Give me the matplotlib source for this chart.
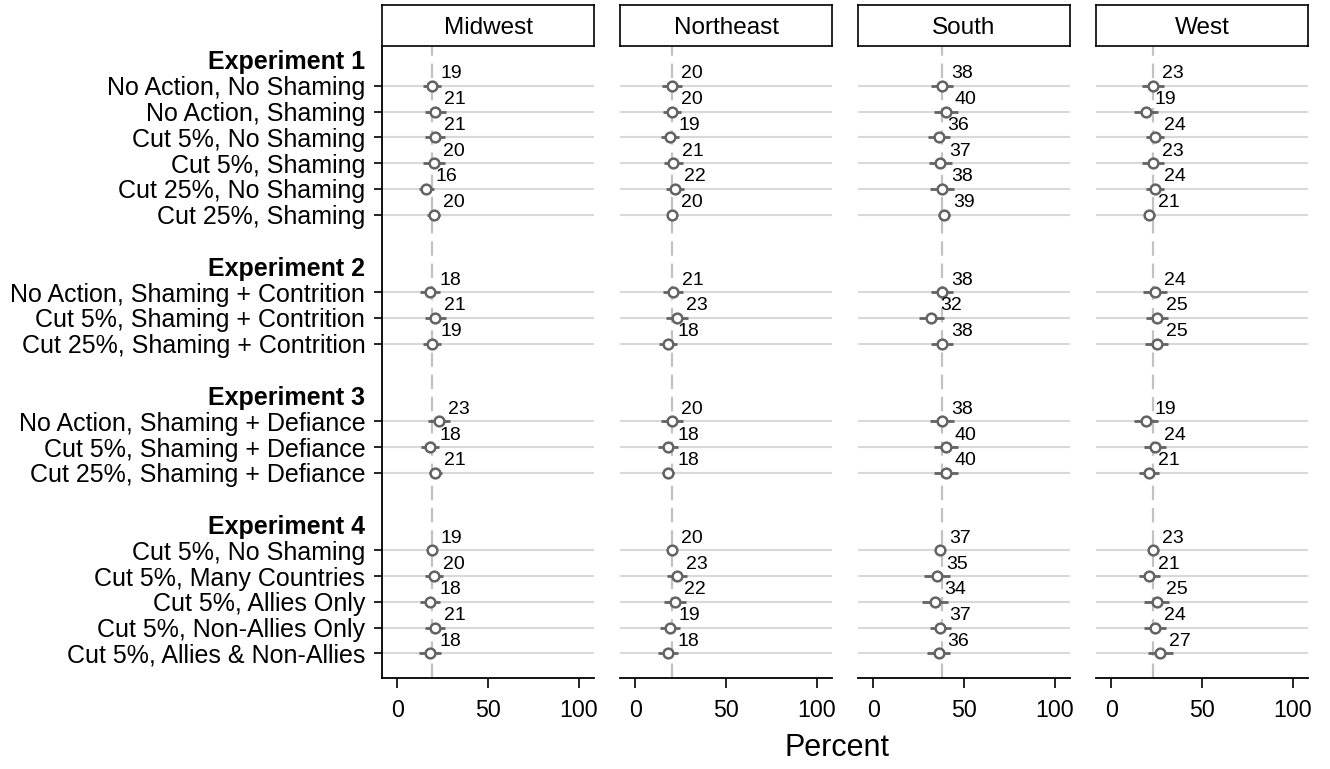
import matplotlib
matplotlib.use("Agg")
import matplotlib.pyplot as plt

plt.rcParams['font.family'] = ['Liberation Sans', 'DejaVu Sans']

regions = ['Midwest', 'Northeast', 'South', 'West']
experiments = ['Experiment 1', 'Experiment 2', 'Experiment 3', 'Experiment 4']
treatments = [
    ['No Action, No Shaming', 'No Action, Shaming', 'Cut 5%, No Shaming',
     'Cut 5%, Shaming', 'Cut 25%, No Shaming', 'Cut 25%, Shaming'],
    ['No Action, Shaming + Contrition', 'Cut 5%, Shaming + Contrition',
     'Cut 25%, Shaming + Contrition'],
    ['No Action, Shaming + Defiance', 'Cut 5%, Shaming + Defiance',
     'Cut 25%, Shaming + Defiance'],
    ['Cut 5%, No Shaming', 'Cut 5%, Many Countries', 'Cut 5%, Allies Only',
     'Cut 5%, Non-Allies Only', 'Cut 5%, Allies & Non-Allies'],
]

# point estimates (percent), rows in order of treatments above
midwest = [19, 21, 21, 20, 16, 20, 18, 21, 19, 23, 18, 21, 19, 20, 18, 21, 18]
northeast = [20, 20, 19, 21, 22, 20, 21, 23, 18, 20, 18, 18, 20, 23, 22, 19, 18]
south = [38, 40, 36, 37, 38, 39, 38, 32, 38, 38, 40, 40, 37, 35, 34, 37, 36]
west = [23, 19, 24, 23, 24, 21, 24, 25, 25, 19, 24, 21, 23, 21, 25, 24, 27]

# half widths of the confidence intervals
midwest_moe = [5, 6, 5.5, 6, 4, 3.5, 5.5, 6, 5, 6, 5, 3.5, 2, 5, 5.5, 5.5, 6]
northeast_moe = [5.5, 5, 5, 5, 5, 2.5, 5.5, 6, 5, 6, 5.5, 3.5, 2, 5.5, 6, 5.5, 5.5]
south_moe = [6, 6.5, 6, 6.5, 6.5, 3.5, 6, 7, 6, 6.5, 6.5, 6.5, 2.5, 7, 7, 6, 6.5]
west_moe = [6, 6.5, 5, 6, 5, 3, 6.5, 6, 6.5, 6.5, 6, 5.5, 3, 6, 7, 6, 7]

baseline = [19.3, 20.1, 37.7, 22.9]

values = [midwest, northeast, south, west]
moes = [midwest_moe, northeast_moe, south_moe, west_moe]

# row positions: header, items, blank
header_pos, item_pos, item_lab = [], [], []
pos = 0
for exp, items in zip(experiments, treatments):
    header_pos.append(pos)
    for k, it in enumerate(items):
        item_pos.append(pos + 1 + k)
        item_lab.append(it)
    pos += len(items) + 2

W, H = 1330, 769
fig = plt.figure(figsize=(W / 100, H / 100), dpi=100)

gray = '#636363'
for i, reg in enumerate(regions):
    x0 = 382 + 238 * i
    ax = fig.add_axes([x0 / W, 1 - 678 / H, 212 / W, (678 - 47) / H])
    for y in item_pos:
        ax.axhline(y, color='#d9d9d9', lw=1.5, zorder=0)
    ax.axvline(baseline[i], color='#c2c2c2', lw=1.6, ls=(0, (6.5, 3.5)), zorder=1)
    v = values[i]
    m = moes[i]
    ax.hlines(item_pos, [a - b for a, b in zip(v, m)], [a + b for a, b in zip(v, m)],
              color=gray, lw=2.0, zorder=3)
    ax.plot(v, item_pos, 'o', mfc='white', mec=gray, mew=1.8, ms=7, zorder=4)
    for xv, yv in zip(v, item_pos):
        ax.annotate(str(xv), (xv, yv), xytext=(9, 12), textcoords='offset pixels',
                    ha='left', va='center', fontsize=14, zorder=5)

    ax.set_xlim(-8.5, 108.5)
    ax.set_ylim(23.95, -0.5)
    ax.set_xticks([0, 50, 100])
    ax.tick_params(axis='x', labelsize=16.7, length=7, width=1.2, pad=8)
    for s in ['top', 'right']:
        ax.spines[s].set_visible(False)
    ax.spines['bottom'].set_linewidth(1.3)
    if i == 0:
        ax.spines['left'].set_linewidth(1.3)
        ticks = header_pos + item_pos
        labs = experiments + item_lab
        ax.set_yticks(ticks)
        ax.set_yticklabels(labs)
        ax.tick_params(axis='y', labelsize=18, length=6, width=1.2, pad=6)
        for t, lab in zip(ax.yaxis.get_major_ticks(), ax.get_yticklabels()):
            if lab.get_text() in experiments:
                t.tick1line.set_visible(False)
                lab.set_fontweight('bold')
    else:
        ax.spines['left'].set_visible(False)
        ax.set_yticks([])

    sx = fig.add_axes([x0 / W, 1 - 46 / H, 212 / W, 41 / H])
    sx.set_xticks([])
    sx.set_yticks([])
    for s in sx.spines.values():
        s.set_linewidth(1.2)
    sx.text(0.5, 0.45, reg, ha='center', va='center', fontsize=17.5, transform=sx.transAxes)

fig.text(837 / W, 1 - 748 / H, 'Percent', ha='center', va='center', fontsize=22)

fig.savefig('out.png', dpi=100)
